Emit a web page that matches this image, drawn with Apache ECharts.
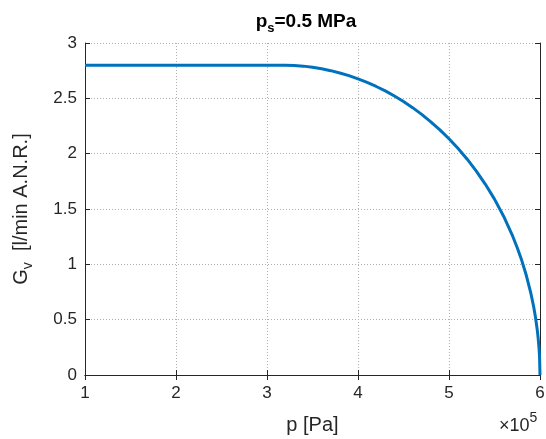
<!DOCTYPE html>
<html><head><meta charset="utf-8">
<script src="https://cdn.jsdelivr.net/npm/echarts@6/dist/echarts.min.js"></script>
<style>html,body{margin:0;padding:0;background:#fff;}#c{width:546px;height:439px;}</style>
</head><body><div id="c"></div>
<script>
// pressure p (×10^5 Pa)
const pValues = [1, 1.5, 2, 2.5, 3, 3.1, 3.17, 3.2, 3.3, 3.4, 3.5, 3.6, 3.7, 3.8, 3.9, 4.0, 4.1, 4.2, 4.3, 4.4, 4.5, 4.6, 4.7, 4.8, 4.9, 5.0, 5.1, 5.2, 5.3, 5.4, 5.5, 5.6, 5.7, 5.75, 5.8, 5.85, 5.9, 5.93, 5.95, 5.97, 5.98, 5.99, 5.995, 6.0];
// flow G_v (l/min A.N.R.)
const gValues = [2.8, 2.8, 2.8, 2.8, 2.8, 2.8, 2.8, 2.8, 2.797, 2.791, 2.781, 2.767, 2.750, 2.729, 2.705, 2.676, 2.644, 2.607, 2.567, 2.521, 2.471, 2.416, 2.355, 2.288, 2.215, 2.135, 2.047, 1.950, 1.843, 1.723, 1.589, 1.435, 1.254, 1.150, 1.034, 0.899, 0.737, 0.619, 0.524, 0.406, 0.332, 0.235, 0.166, 0];
const xTicks = [1, 2, 3, 4, 5, 6];
const yTicks = [0, 0.5, 1, 1.5, 2, 2.5, 3];

const axisColor = '#262626';
const FONT = '"Liberation Sans", Arial, sans-serif';
const chart = echarts.init(document.getElementById('c'));
const grid = {left: 85, right: 6, top: 43, bottom: 64, containLabel: false, outerBoundsMode: 'none'};
const commonX = {
  type: 'value', min: xTicks[0], max: xTicks[xTicks.length-1], interval: 1,
  axisLine: {show: true, lineStyle: {color: axisColor, width: 1}},
  axisTick: {show: true, inside: true, length: 5, lineStyle: {color: axisColor}},
};
const commonY = {
  type: 'value', min: yTicks[0], max: yTicks[yTicks.length-1], interval: 0.5,
  axisLine: {show: true, lineStyle: {color: axisColor, width: 1}},
  axisTick: {show: true, inside: true, length: 5, lineStyle: {color: axisColor}},
};
chart.setOption({
  animation: false,
  backgroundColor: '#fff',
  title: {
    text: '{b|p}{s|s}{b|=0.5 MPa}',
    left: 301, top: 4, textAlign: 'center',
    textStyle: {rich: {
      b: {fontFamily: FONT, fontWeight: 'bold', fontSize: 19, color: '#000'},
      s: {fontFamily: FONT, fontWeight: 'bold', fontSize: 13, color: '#000', padding: [13,0,0,0]}
    }}
  },
  grid: grid,
  xAxis: [
    Object.assign({}, commonX, {
      position: 'bottom',
      axisLabel: {color: axisColor, fontFamily: FONT, fontSize: 17, margin: 10, formatter: v => String(v)},
      splitLine: {show: true, lineStyle: {color: '#b0b0b0', type: [1, 2], width: 1}},
      name: 'p [Pa]', nameLocation: 'middle', nameGap: 40,
      nameTextStyle: {color: axisColor, fontFamily: FONT, fontSize: 20}
    }),
    Object.assign({}, commonX, {
      position: 'top', axisLabel: {show: false}, splitLine: {show: false}
    })
  ],
  yAxis: [
    Object.assign({}, commonY, {
      position: 'left',
      axisLabel: {color: axisColor, fontFamily: FONT, fontSize: 17, margin: 8, formatter: v => String(v)},
      splitLine: {show: true, lineStyle: {color: '#b0b0b0', type: [1, 2], width: 1}},
      name: '{n|G}{s|v}{n|  [l/min A.N.R.]}', nameLocation: 'middle', nameGap: 50,
      nameTextStyle: {rich: {
        n: {color: axisColor, fontFamily: FONT, fontSize: 20},
        s: {color: axisColor, fontFamily: FONT, fontSize: 14, padding: [14,0,0,0]}
      }}
    }),
    Object.assign({}, commonY, {
      position: 'right', axisLabel: {show: false}, splitLine: {show: false}
    })
  ],
  graphic: [{
    type: 'text', left: 499, top: 411,
    style: {
      text: '{a|×10}{e|5}',
      rich: {
        a: {fontFamily: FONT, fontSize: 18, fill: axisColor, padding: [10,0,0,0]},
        e: {fontFamily: FONT, fontSize: 14, fill: axisColor, padding: [0,0,6,0]}
      }
    }
  }],
  series: [{
    type: 'line', xAxisIndex: 0, yAxisIndex: 0,
    data: pValues.map((p, i) => [p, gValues[i]]),
    showSymbol: false, smooth: false,
    lineStyle: {color: '#0072BD', width: 3},
    clip: false
  }]
});
</script></body></html>
